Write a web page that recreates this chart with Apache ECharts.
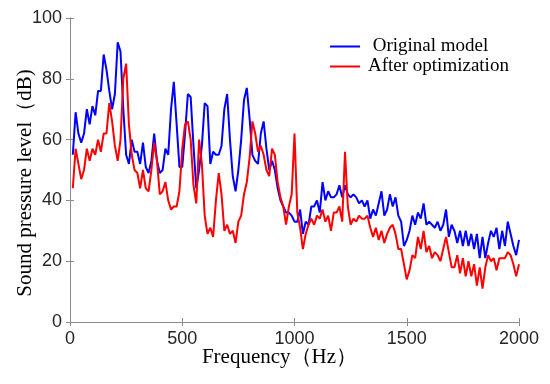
<!DOCTYPE html>
<html>
<head>
<meta charset="utf-8">
<script src="https://cdn.jsdelivr.net/npm/echarts@6/dist/echarts.min.js"></script>
<style>
html,body{margin:0;padding:0;background:#fff;}
#chart{width:550px;height:384px;}
</style>
</head>
<body>
<div id="chart"></div>
<script>
// Frequency grid step (Hz) — samples at 12.5, 25, ..., 2000 Hz
const freqStep = 12.5;
const seriesNames = [' Original model', 'After optimization'];
const xTicks = [0, 500, 1000, 1500, 2000];
const yTicks = [0, 20, 40, 60, 80, 100];

const originalModel = [
  55,69,62,59,62,70,65,71,68,76,76,88,83,76,70,75,92,89,70,55,52,60,
  56,56,52,59,51,49,53,62,53,49,50,57,55,70,79,65,51,51,62,75,74,58,44,
  50,58,72,71,52,56,55,55,58,70,75,60,48,43,50,60,73,77,67,55,53,52,
  62,66,57,50,53,50,44,40,38,36,36,35,33,33,37,29,33,32,38,38,40,36,46,
  40,43,41,41,42,45,41,45,42,41,42,41,39,40,38,40,34,37,35,39,43,35,37,
  42,38,41,35,33,25,27,30,35,32,36,34,39,32,33,32,31,33,30,32,37,28,32,
  30,26,30,25,30,25,29,24,29,21,28,21,26,30,28,31,24,30,25,33,29,25,22,27
];
const afterOptimization = [
  44,57,52,47,50,57,53,57,55,60,56,62,62,72,66,58,53,60,80,85,65,55,
  50,49,44,50,44,43,50,59,53,42,43,46,40,37,38,38,43,57,65,66,60,45,39,
  60,52,35,29,31,28,40,49,42,30,32,29,30,26,33,35,42,46,54,66,62,56,
  58,55,50,48,57,55,46,41,38,32,38,42,62,36,31,24,29,32,34,32,35,34,37,
  33,35,30,36,36,38,33,56,38,32,34,33,35,34,34,35,31,28,31,27,30,26,29,
  31,32,29,24,24,19,14,17,22,21,28,24,30,23,25,21,23,22,20,24,28,23,18,
  18,22,16,21,15,20,15,19,12,18,11,18,22,20,21,17,21,21,21,23,22,19,15,19
];

const toPairs = arr => arr.map((v, i) => [freqStep * (i + 1), v]);

const chart = echarts.init(document.getElementById('chart'));
const axisColor = '#8c8c8c';
const labelColor = '#262626';
const tickFont = 'Liberation Sans, Arial, sans-serif';
const serif = '"Liberation Serif", "Times New Roman", serif';

chart.setOption({
  animation: false,
  backgroundColor: '#fff',
  grid: {left: 70, right: 31, top: 18, bottom: 62, containLabel: false, outerBoundsMode: 'none'},
  legend: {
    top: 32, left: 325, orient: 'vertical',
    itemWidth: 30, itemHeight: 2, itemGap: 1, icon: 'rect',
    textStyle: {fontFamily: serif, fontSize: 19, color: '#000', padding: [0, 0, 0, 3]},
    data: seriesNames
  },
  xAxis: [{
    type: 'value', min: 0, max: 2000, interval: 500,
    name: 'Frequency（Hz）', nameLocation: 'middle', nameGap: 25, nameMoveOverlap: false,
    nameTextStyle: {fontFamily: serif, fontSize: 21, color: '#000', padding: [0, 30, 0, 0]},
    axisLine: {show: true, lineStyle: {color: axisColor, width: 1}},
    axisTick: {show: true, inside: true, length: 4, lineStyle: {color: axisColor}},
    axisLabel: {color: labelColor, fontSize: 18, fontFamily: tickFont, margin: 8,
      formatter: v => String(v)},
    splitLine: {show: false}
  }, {
    type: 'value', min: 0, max: 2000, interval: 500, position: 'top',
    axisLine: {show: true, lineStyle: {color: axisColor, width: 1}},
    axisTick: {show: true, inside: true, length: 4, lineStyle: {color: axisColor}},
    axisLabel: {show: false}, splitLine: {show: false}
  }],
  yAxis: [{
    type: 'value', min: 0, max: 100, interval: 20,
    name: 'Sound pressure level（dB)', nameLocation: 'middle', nameGap: 34, nameMoveOverlap: false,
    nameTextStyle: {fontFamily: serif, fontSize: 21, color: '#000', padding: [0, 26, 0, 0]},
    axisLine: {show: true, lineStyle: {color: axisColor, width: 1}},
    axisTick: {show: true, inside: true, length: 4, lineStyle: {color: axisColor}},
    axisLabel: {color: labelColor, fontSize: 18, fontFamily: tickFont, margin: 8,
      formatter: v => String(v)},
    splitLine: {show: false}
  }, {
    type: 'value', min: 0, max: 100, interval: 20, position: 'right',
    axisLine: {show: true, lineStyle: {color: axisColor, width: 1}},
    axisTick: {show: true, inside: true, length: 4, lineStyle: {color: axisColor}},
    axisLabel: {show: false}, splitLine: {show: false}
  }],
  series: [{
    name: seriesNames[0], type: 'line', data: toPairs(originalModel),
    showSymbol: false, symbol: 'none',
    lineStyle: {color: '#0000ff', width: 2}, itemStyle: {color: '#0000ff'}
  }, {
    name: seriesNames[1], type: 'line', data: toPairs(afterOptimization),
    showSymbol: false, symbol: 'none',
    lineStyle: {color: '#ff0000', width: 2}, itemStyle: {color: '#ff0000'}
  }]
});
</script>
</body>
</html>
